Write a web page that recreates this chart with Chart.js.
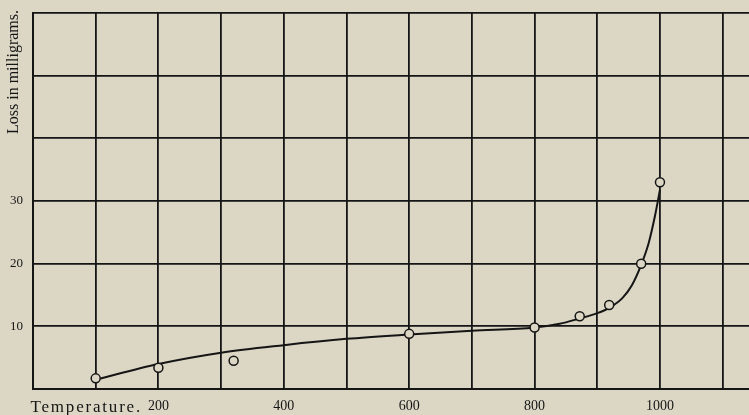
<!DOCTYPE html>
<html>
<head>
<meta charset="utf-8">
<script src="https://cdn.jsdelivr.net/npm/chart.js@4.4.0/dist/chart.umd.min.js"></script>
<style>
  html, body { margin: 0; padding: 0; background: #dcd7c5; }
  #wrap { width: 749px; height: 415px; }
</style>
</head>
<body>
<div id="wrap"><canvas id="lossChart" width="749" height="415"></canvas></div>
<script>
// observed points (open circles)
const temps  = [100, 200, 320, 600, 800, 872, 919, 970, 1000];
const losses = [1.7, 3.4, 4.5, 8.8, 9.8, 11.6, 13.4, 20.0, 33.0];

// smooth curve drawn through them
const curveTemps = [100, 200, 300, 400, 500, 600, 700, 800, 840, 870, 900, 920, 940, 955, 970, 982, 992, 1000];
const curveLoss  = [1.5, 4.0, 5.8, 7.0, 8.0, 8.7, 9.3, 9.8, 10.4, 11.2, 12.1, 13.0, 14.5, 16.5, 19.8, 23.3, 27.6, 31.8];

// labels printed on the axes
const xTickLabels = [200, 400, 600, 800, 1000];
const yTickLabels = [10, 20, 30];
const xTitle = 'Temperature.';
const yTitle = 'Loss in milligrams.';

const ink = '#151515';
const paper = '#dcd7c5';
const serif = '"Liberation Serif", "DejaVu Serif", serif';

// axis titles sit outside the scales, like the printed figure
const titlesPlugin = {
  id: 'titles',
  afterDraw(chart) {
    const ctx = chart.ctx;
    ctx.save();
    ctx.fillStyle = ink;
    ctx.font = '17px ' + serif;
    ctx.letterSpacing = '1.8px';
    ctx.textAlign = 'right';
    ctx.textBaseline = 'alphabetic';
    ctx.fillText(xTitle, 142, 412);

    ctx.font = '16px ' + serif;
    ctx.letterSpacing = '0px';
    ctx.translate(14, 10);
    ctx.rotate(-Math.PI / 2);
    ctx.textAlign = 'right';
    ctx.textBaseline = 'middle';
    ctx.fillText(yTitle, 0, 0);
    ctx.restore();
  }
};

const ctx = document.getElementById('lossChart').getContext('2d');

new Chart(ctx, {
  type: 'scatter',
  data: {
    datasets: [
      {
        label: 'observed',
        data: temps.map((t, i) => ({ x: t, y: losses[i] })),
        pointRadius: 4.5,
        pointBorderWidth: 1.5,
        pointBorderColor: ink,
        pointBackgroundColor: paper,
        showLine: false
      },
      {
        label: 'curve',
        data: curveTemps.map((t, i) => ({ x: t, y: curveLoss[i] })),
        showLine: true,
        borderColor: ink,
        borderWidth: 2,
        pointRadius: 0,
        cubicInterpolationMode: 'monotone'
      }
    ]
  },
  options: {
    responsive: false,
    animation: false,
    layout: { autoPadding: false, padding: { top: 13, right: 0, left: 0, bottom: 0 } },
    plugins: {
      legend: { display: false },
      tooltip: { enabled: false }
    },
    scales: {
      x: {
        type: 'linear',
        min: 0,
        max: 1142,
        afterFit(scale) {
          scale.height = 26;
          scale.paddingLeft = 0;
          scale.paddingRight = 0;
        },
        border: { display: true, color: ink, width: 2 },
        grid: { color: ink, lineWidth: 1.8, drawTicks: false },
        ticks: {
          stepSize: 100,
          includeBounds: false,
          padding: 9,
          color: ink,
          font: { family: serif, size: 14 },
          maxRotation: 0,
          autoSkip: false,
          callback: v => xTickLabels.includes(v) ? String(v) : ''
        }
      },
      y: {
        min: 0,
        max: 60,
        afterFit(scale) {
          scale.width = 33;
          scale.paddingTop = 0;
          scale.paddingBottom = 0;
        },
        border: { display: true, color: ink, width: 2 },
        grid: { color: ink, lineWidth: 1.8, drawTicks: false },
        ticks: {
          stepSize: 10,
          padding: 10,
          color: ink,
          font: { family: serif, size: 13 },
          callback: v => yTickLabels.includes(v) ? String(v) : ''
        }
      }
    }
  },
  plugins: [titlesPlugin]
});
</script>
</body>
</html>
